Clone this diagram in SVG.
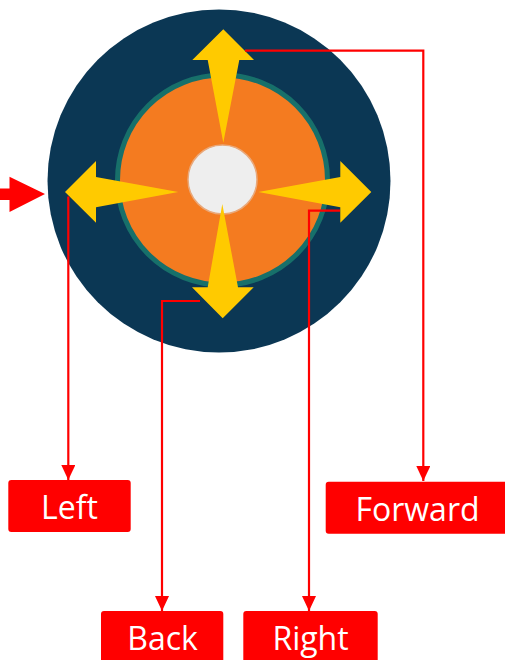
<svg xmlns="http://www.w3.org/2000/svg" width="505" height="660" viewBox="0 0 505 660">
<defs>
<style>
.conn{fill:none;stroke:#FF0000;stroke-width:2.2}
.box{fill:#FF0000}
.lbl{fill:#FFFFFF;font-family:"Open Sans","Noto Sans",sans-serif;font-size:32px;text-anchor:middle}
.yarrow{fill:#FFCA00}
</style>
<marker id="ah" viewBox="0 0 15 14" refX="15" refY="7" markerWidth="15" markerHeight="14" markerUnits="userSpaceOnUse" orient="auto">
<path d="M0,0 L15,7 L0,14 Z" fill="#FF0000"/>
</marker>
</defs>
<g id="disc">
<circle cx="219" cy="181" r="171.5" fill="#0B3754"/>
<circle cx="222.5" cy="180" r="105" fill="#F47B20" stroke="#17706A" stroke-width="5"/>
<circle cx="222.5" cy="179.5" r="34.5" fill="#EEEEEE" stroke="#E9A87A" stroke-width="1.5"/>
</g>
<g id="arrow-up"><path class="yarrow" d="M223.3,29.3 L254,60 L239.3,60 L223.3,142.7 L207.7,60 L192.3,60 Z"/></g>
<g id="arrow-down"><path class="yarrow" d="M222.7,318.3 L253.7,287.3 L238,287.3 L222.3,204 L207.7,287.3 L192,287.3 Z"/></g>
<g id="arrow-left"><path class="yarrow" d="M65,192 L96,161 L96,177 L178.3,192 L96,207.3 L96,222.7 Z"/></g>
<g id="arrow-right"><path class="yarrow" d="M371.3,192 L340.3,161 L340.3,177 L258.3,192 L340.3,207.3 L340.3,222.7 Z"/></g>
<g id="input-arrow"><path d="M0,188.5 L9.5,188.5 L9.5,176.7 L45,194 L9.5,212 L9.5,200 L0,200 Z" fill="#FF0000"/></g>
<g id="connectors">
<path class="conn" d="M245,50.7 L423.3,50.7 L423.3,481" marker-end="url(#ah)"/>
<path class="conn" d="M68.3,196.5 L68.3,480" marker-end="url(#ah)"/>
<path class="conn" d="M200,301 L162,301 L162,611" marker-end="url(#ah)"/>
<path class="conn" d="M340,210.7 L309,210.7 L309,611" marker-end="url(#ah)"/>
</g>
<g id="node-left"><rect class="box" x="8.3" y="480" width="122.4" height="52" rx="3"/><text class="lbl" x="69.5" y="519">Left</text></g>
<g id="node-forward"><rect class="box" x="325.7" y="481.7" width="184" height="52" rx="3"/><text class="lbl" x="417.5" y="521">Forward</text></g>
<g id="node-back"><rect class="box" x="101" y="611" width="122.3" height="60" rx="3"/><text class="lbl" x="162.5" y="649.5">Back</text></g>
<g id="node-right"><rect class="box" x="243.3" y="611" width="134.4" height="60" rx="3"/><text class="lbl" x="310.5" y="649.5">Right</text></g>
</svg>
